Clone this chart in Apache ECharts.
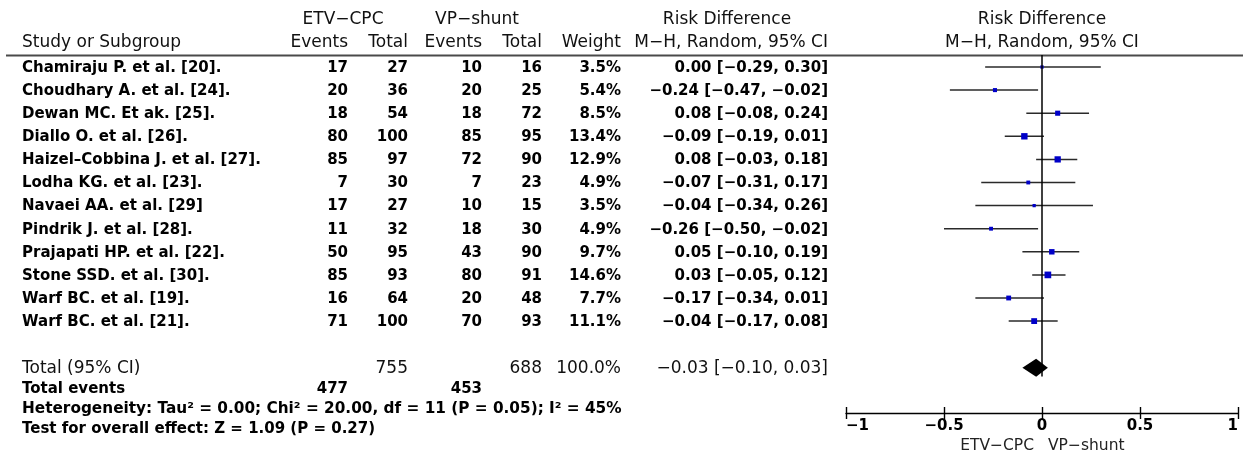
<!DOCTYPE html>
<html>
<head>
<meta charset="utf-8">
<script src="https://cdn.jsdelivr.net/npm/echarts@6/dist/echarts.min.js"></script>
<style>
html,body{margin:0;padding:0;background:#fff;}
#chart{width:1243px;height:455px;}
</style>
</head>
<body>
<div id="chart"></div>
<script>
// ---------------- data ----------------
const studies = [
  'Chamiraju P. et al. [20].',
  'Choudhary A. et al. [24].',
  'Dewan MC. Et ak. [25].',
  'Diallo O. et al. [26].',
  'Haizel\u2013Cobbina J. et al. [27].',
  'Lodha KG. et al. [23].',
  'Navaei AA. et al. [29]',
  'Pindrik J. et al. [28].',
  'Prajapati HP. et al. [22].',
  'Stone SSD. et al. [30].',
  'Warf BC. et al. [19].',
  'Warf BC. et al. [21].'
];
const etvEvents = [17, 20, 18, 80, 85, 7, 17, 11, 50, 85, 16, 71];
const etvTotal  = [27, 36, 54, 100, 97, 30, 27, 32, 95, 93, 64, 100];
const vpEvents  = [10, 20, 18, 85, 72, 7, 10, 18, 43, 80, 20, 70];
const vpTotal   = [16, 25, 72, 95, 90, 23, 15, 30, 90, 91, 48, 93];
const weights   = [3.5, 5.4, 8.5, 13.4, 12.9, 4.9, 3.5, 4.9, 9.7, 14.6, 7.7, 11.1];
const rd        = [0.00, -0.24, 0.08, -0.09, 0.08, -0.07, -0.04, -0.26, 0.05, 0.03, -0.17, -0.04];
const ciLow     = [-0.29, -0.47, -0.08, -0.19, -0.03, -0.31, -0.34, -0.50, -0.10, -0.05, -0.34, -0.17];
const ciHigh    = [0.30, -0.02, 0.24, 0.01, 0.18, 0.17, 0.26, -0.02, 0.19, 0.12, 0.01, 0.08];
const totalEtvN = 755, totalVpN = 688, totalWeight = 100.0;
const totalEtvEvents = 477, totalVpEvents = 453;
const pooled = [-0.03, -0.10, 0.03]; // estimate, low, high
const xTicks = [-1, -0.5, 0, 0.5, 1];
const heterogeneityText = 'Heterogeneity: Tau\u00b2 = 0.00; Chi\u00b2 = 20.00, df = 11 (P = 0.05); I\u00b2 = 45%';
const overallText = 'Test for overall effect: Z = 1.09 (P = 0.27)';
const leftLabel = 'ETV\u2212CPC', rightLabel = 'VP\u2212shunt';

// ---------------- helpers ----------------
const fmt = v => (v < 0 ? '\u2212' : '') + Math.abs(v).toFixed(2);
const ciText = (e, l, h) => fmt(e) + ' [' + fmt(l) + ', ' + fmt(h) + ']';
const totalRow = studies.length + 1;

const chart = echarts.init(document.getElementById('chart'), null, {renderer: 'canvas'});
const FONT = 'DejaVu Sans';

const rowData = studies.map((s, i) => [rd[i], i, ciLow[i], ciHigh[i], weights[i]]);

chart.setOption({
  animation: false,
  backgroundColor: '#fff',
  grid: {left: 846, right: 5, top: 55, bottom: 42},
  xAxis: [{
    type: 'value', min: xTicks[0], max: xTicks[xTicks.length - 1], interval: 0.5,
    position: 'bottom',
    splitLine: {show: false},
    axisLine: {show: true, onZero: false, lineStyle: {color: '#000', width: 1.4}},
    axisTick: {show: true, inside: true, length: 6, lineStyle: {color: '#000', width: 1.4}},
    axisLabel: {
      color: '#000', fontFamily: FONT, fontWeight: 'bold', fontSize: 15, margin: 6,
      alignMinLabel: 'left', alignMaxLabel: 'right',
      formatter: v => (v < 0 ? '\u2212' : '') + String(Math.abs(v))
    }
  }, {
    type: 'value', min: xTicks[0], max: xTicks[xTicks.length - 1], interval: 0.5,
    position: 'bottom',
    splitLine: {show: false},
    axisLine: {show: false, onZero: false},
    axisTick: {show: true, inside: false, length: 6, lineStyle: {color: '#000', width: 1.4}},
    axisLabel: {show: false}
  }],
  yAxis: {
    type: 'value', inverse: true, min: -0.563, max: 14.935, show: false
  },
  series: [
    {
      // line of no effect
      type: 'line', xAxisIndex: 0, silent: true, symbol: 'none',
      lineStyle: {color: '#000', width: 1.5},
      data: [[0, -0.563], [0, totalRow + 0.36]]
    },
    {
      type: 'custom', xAxisIndex: 0, silent: true,
      renderItem: (params, api) => {
        const y = api.value(1);
        const p = api.coord([api.value(0), y]);
        const l = api.coord([api.value(2), y]);
        const h = api.coord([api.value(3), y]);
        const s = 1.75 * Math.sqrt(api.value(4));
        const yy = p[1] - 1;
        return {
          type: 'group',
          children: [
            {type: 'line', shape: {x1: l[0], y1: yy, x2: h[0], y2: yy},
             style: {stroke: '#2a2a2a', lineWidth: 1.5}},
            {type: 'rect', shape: {x: p[0] - s / 2, y: yy - s / 2, width: s, height: s},
             style: {fill: '#0000c8'}}
          ]
        };
      },
      data: rowData
    },
    {
      type: 'custom', xAxisIndex: 0, silent: true,
      renderItem: (params, api) => {
        const y = api.value(1);
        const c = api.coord([api.value(0), y]);
        const l = api.coord([api.value(2), y]);
        const h = api.coord([api.value(3), y]);
        const hh = 9;
        const cy = c[1] - 0.5;
        return {
          type: 'polygon',
          shape: {points: [[l[0], cy], [c[0], cy - hh], [h[0], cy], [c[0], cy + hh]]},
          style: {fill: '#000'}
        };
      },
      data: [[pooled[0], totalRow, pooled[1], pooled[2]]]
    }
  ]
});

// ---------------- table text ----------------
const rowY = i => chart.convertToPixel({yAxisIndex: 0}, i);
const xAt = v => chart.convertToPixel({xAxisIndex: 0}, v);
const colRight = {etvE: 348, etvT: 408, vpE: 482, vpT: 542, w: 621, ci: 828};
const LEFT = 22;
const G = [];
const txt = (text, x, y, align, weight, size, color) => G.push({
  type: 'text', x: x, y: y, silent: true,
  style: {text: String(text), x: 0, y: 0, align: align || 'left', verticalAlign: 'middle',
    font: (weight || 'bold') + ' ' + (size || 15) + 'px "' + FONT + '"', fill: color || '#000'}
});
const hdr = (text, x, y, align) => txt(text, x, y, align, 'normal', 17, '#111');

// headers
const H1 = 20, H2 = 43;
hdr('ETV\u2212CPC', 343, H1, 'center');
hdr('VP\u2212shunt', 477, H1, 'center');
hdr('Risk Difference', 727, H1, 'center');
hdr('Risk Difference', xAt(0), H1, 'center');
hdr('Study or Subgroup', LEFT, H2, 'left');
hdr('Events', colRight.etvE, H2, 'right');
hdr('Total', colRight.etvT, H2, 'right');
hdr('Events', colRight.vpE, H2, 'right');
hdr('Total', colRight.vpT, H2, 'right');
hdr('Weight', colRight.w, H2, 'right');
hdr('M\u2212H, Random, 95% CI', colRight.ci, H2, 'right');
hdr('M\u2212H, Random, 95% CI', xAt(0), H2, 'center');
G.push({type: 'line', silent: true, shape: {x1: 6, y1: 55.5, x2: 1243, y2: 55.5},
  style: {stroke: '#4a4a4a', lineWidth: 1.8}});

studies.forEach((s, i) => {
  const y = rowY(i);
  txt(s, LEFT, y, 'left');
  txt(etvEvents[i], colRight.etvE, y, 'right');
  txt(etvTotal[i], colRight.etvT, y, 'right');
  txt(vpEvents[i], colRight.vpE, y, 'right');
  txt(vpTotal[i], colRight.vpT, y, 'right');
  txt(weights[i].toFixed(1) + '%', colRight.w, y, 'right');
  txt(ciText(rd[i], ciLow[i], ciHigh[i]), colRight.ci, y, 'right');
});

const ty = rowY(totalRow);
hdr('Total (95% CI)', LEFT, ty, 'left');
hdr(totalEtvN, colRight.etvT, ty, 'right');
hdr(totalVpN, colRight.vpT, ty, 'right');
hdr(totalWeight.toFixed(1) + '%', colRight.w, ty, 'right');
hdr(ciText(pooled[0], pooled[1], pooled[2]), colRight.ci, ty, 'right');

txt('Total events', LEFT, 389, 'left');
txt(totalEtvEvents, colRight.etvE, 389, 'right');
txt(totalVpEvents, colRight.vpE, 389, 'right');
txt(heterogeneityText, LEFT, 409, 'left', 'bold', 15.3);
txt(overallText, LEFT, 429, 'left');

txt(leftLabel, xAt(0) - 8, 446, 'right', 'normal', 15.5, '#222');
txt(rightLabel, xAt(0) + 6, 446, 'left', 'normal', 15.5, '#222');

chart.setOption({graphic: G});
</script>
</body>
</html>
